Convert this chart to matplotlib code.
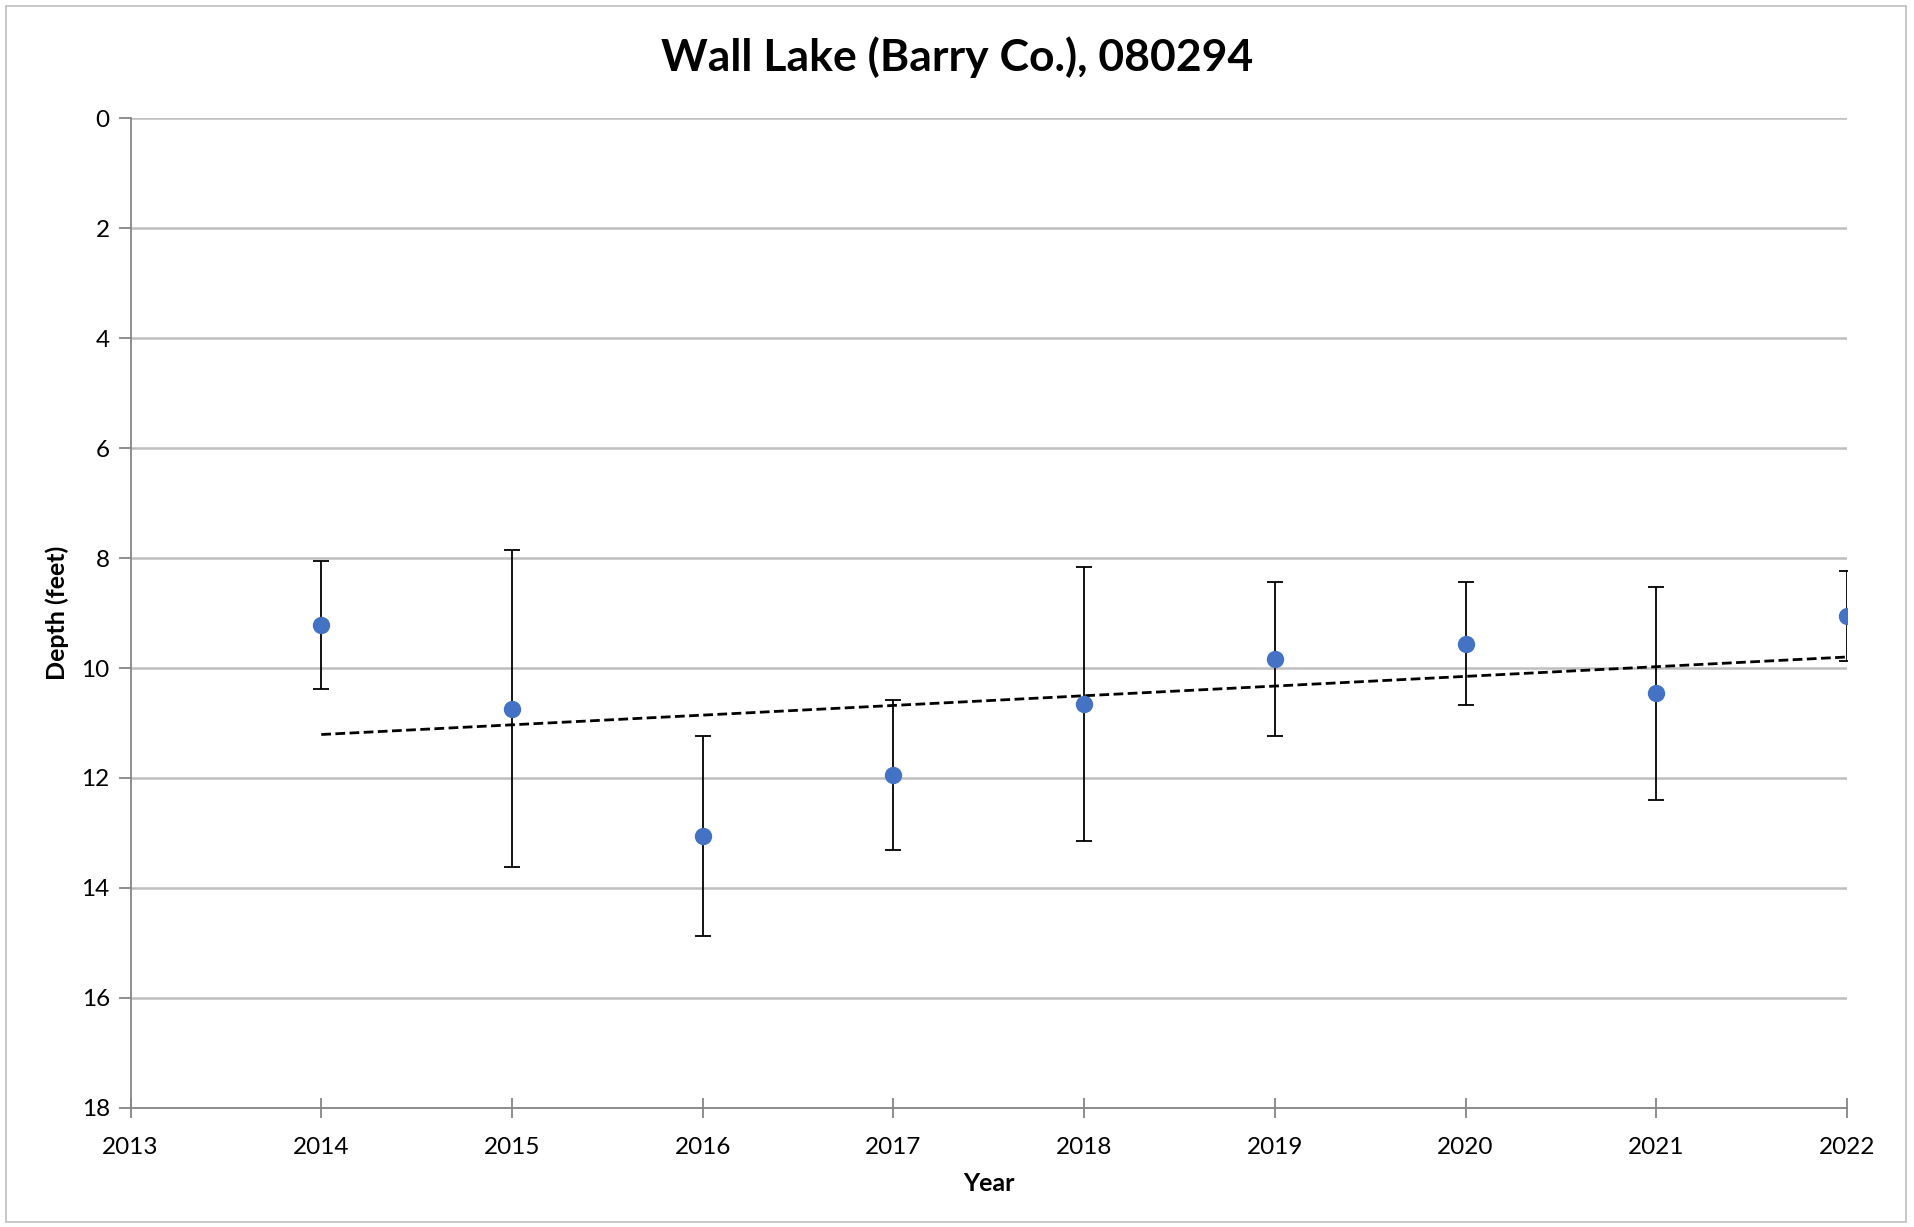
import numpy as np
import matplotlib
matplotlib.use("Agg")
import matplotlib.pyplot as plt
from matplotlib.patches import Rectangle

plt.rcParams['font.family'] = ['Lato', 'DejaVu Sans']

# Secchi depth by year (feet), with +/- error
years = [2014, 2015, 2016, 2017, 2018, 2019, 2020, 2021, 2022]
depth = [9.22, 10.74, 13.05, 11.95, 10.66, 9.84, 9.56, 10.46, 9.06]
err = [1.17, 2.88, 1.82, 1.36, 2.49, 1.40, 1.12, 1.94, 0.82]

xticks = [2013, 2014, 2015, 2016, 2017, 2018, 2019, 2020, 2021, 2022]
yticks = [0, 2, 4, 6, 8, 10, 12, 14, 16, 18]

fig = plt.figure(figsize=(19.14, 12.27), dpi=100)
ax = fig.add_axes([0.0682, 0.097, 0.8968, 0.8068])

# border round the whole chart
fig.patches.append(Rectangle((0.003, 0.004), 0.993, 0.991, transform=fig.transFigure,
                             fill=False, edgecolor="#BFBFBF", linewidth=1.2))

ax.errorbar(years, depth, yerr=err, fmt='none', ecolor='black',
            elinewidth=1.3, capsize=6, capthick=1.3, zorder=3)
ax.plot(years, depth, 'o', color='#4472C4', markersize=11.5, zorder=4)

# linear trendline
coef = np.polyfit(years, depth, 1)
tx = np.array([years[0], years[-1]])
ax.plot(tx, np.polyval(coef, tx), color='black', linewidth=2,
        linestyle=(0, (3.5, 1.6)), zorder=2)

ax.set_xlim(2013, 2022)
ax.set_ylim(18, 0)
ax.set_xticks(xticks)
ax.set_yticks(yticks)
ax.yaxis.grid(True, color='#BFBFBF', linewidth=1.8)
ax.set_axisbelow(True)

for s in ['top', 'right']:
    ax.spines[s].set_visible(False)
for s in ['left', 'bottom']:
    ax.spines[s].set_color('#868686')
    ax.spines[s].set_linewidth(1.3)

ax.tick_params(axis='x', direction='inout', length=14, width=1.3, color='#868686',
               labelsize=17.5, pad=14)
ax.tick_params(axis='y', direction='out', length=9, width=1.3, color='#868686',
               labelsize=17.5, pad=6)

fig.text(0.5, 0.953, "Wall Lake (Barry Co.), 080294", fontsize=32, fontweight='bold',
         ha='center', va='center')
ax.set_xlabel("Year", fontsize=18, fontweight='bold', labelpad=10)
ax.set_ylabel("Depth (feet)", fontsize=18, fontweight='bold', labelpad=9)

fig.savefig("out.png", dpi=100)
